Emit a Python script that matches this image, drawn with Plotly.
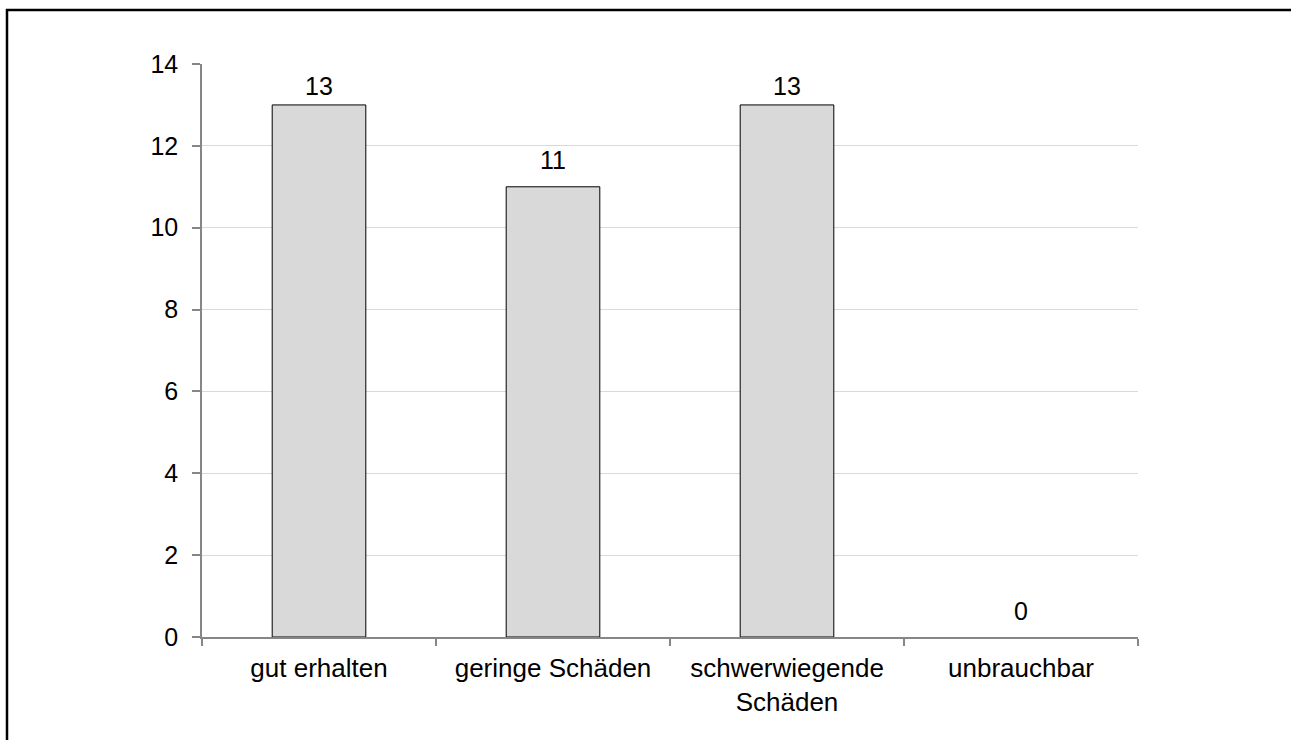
import plotly.graph_objects as go

categories = ["gut erhalten", "geringe Schäden", "schwerwiegende<br>Schäden", "unbrauchbar"]
values = [13, 11, 13, 0]
y_ticks = [0, 2, 4, 6, 8, 10, 12, 14]

# styling: vertical offset (px) of each value label above its bar top
label_shift = [19, 27, 19, 26]

W, H = 1291, 740
L, R, T, B = 202, 153, 64, 103
pw, ph = W - L - R, H - T - B
FONT = "Liberation Sans, Arial, sans-serif"


def px_x(p):
    return (p - L) / pw


def px_y(p):
    return (T + ph - p) / ph


fig = go.Figure()
fig.add_trace(go.Bar(
    x=categories, y=values,
    marker=dict(color="#d9d9d9",
                line=dict(color="#000000", width=[1 if v else 0 for v in values])),
    hoverinfo="x+y",
))

for c, v, s in zip(categories, values, label_shift):
    fig.add_annotation(
        x=c, y=v, xref="x", yref="y", text=str(v), showarrow=False,
        yanchor="middle", yshift=s,
        font=dict(family=FONT, size=25, color="#000000"),
    )

border = dict(color="#000000", width=2.5)
fig.update_layout(
    width=W, height=H,
    margin=dict(l=L, r=R, t=T, b=B),
    paper_bgcolor="white", plot_bgcolor="white",
    bargap=0.6, showlegend=False,
    font=dict(family=FONT, size=25, color="#000000"),
    xaxis=dict(
        showline=True, linecolor="#868686", linewidth=1.5,
        ticks="outside", tickson="boundaries", ticklen=7, tickcolor="#868686", tickwidth=1.5,
        showgrid=False, tickfont=dict(size=26), ticklabelstandoff=7,
    ),
    yaxis=dict(
        range=[0, 14], tickvals=y_ticks,
        showline=True, linecolor="#868686", linewidth=1.5,
        ticks="outside", ticklen=8, tickcolor="#868686", tickwidth=1.5,
        showgrid=True, gridcolor="#d9d9d9", gridwidth=1,
        zeroline=False, tickfont=dict(size=25), ticklabelstandoff=9,
    ),
    shapes=[
        dict(type="line", xref="paper", yref="paper",
             x0=px_x(6), x1=px_x(W), y0=px_y(10), y1=px_y(10), line=border),
        dict(type="line", xref="paper", yref="paper",
             x0=px_x(7), x1=px_x(7), y0=px_y(9), y1=px_y(H), line=border),
    ],
)

fig.write_html(
    "out.html",
    config={"displayModeBar": False},
    post_script=(
        "document.documentElement.style.overflow='hidden';"
        "document.body.style.overflow='hidden';"
        "document.body.style.margin='0';"
    ),
)
